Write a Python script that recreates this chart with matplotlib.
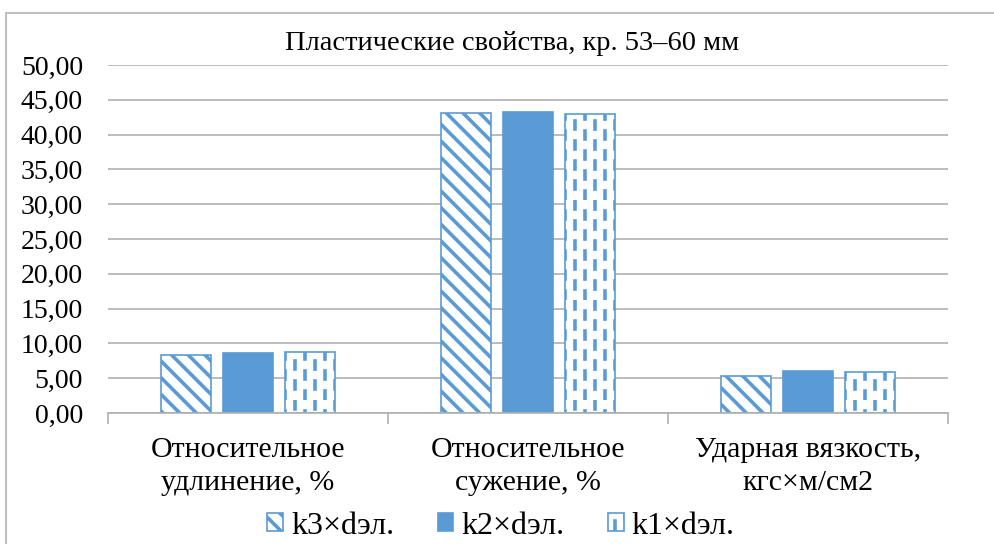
import numpy as np
import matplotlib
matplotlib.use("Agg")
import matplotlib.pyplot as plt
import matplotlib.hatch as mhatch
from matplotlib.patches import Rectangle
from matplotlib.path import Path
from matplotlib.ticker import FixedLocator, FuncFormatter, MultipleLocator

# ---- data -------------------------------------------------------------
title = "Пластические свойства, кр. 53–60 мм"
categories = ["Относительное\nудлинение, %",
              "Относительное\nсужение, %",
              "Ударная вязкость,\nкгс×м/см2"]
series_names = ["k3×dэл.", "k2×dэл.", "k1×dэл."]
k3_values = [8.3, 43.1, 5.3]
k2_values = [8.6, 43.3, 6.1]
k1_values = [8.75, 43.0, 5.9]
y_max = 50
y_step = 5


# ---- custom hatches ---------------------------------------------------
class DenseDiagonalHatch(mhatch.HatchPatternBase):
    """'\\' as diagonal stripes (lines x + y = k / n)."""
    per_tile = 6

    def __init__(self, hatch, density):
        n = self.per_tile if hatch.count("\\") else 0
        self.num_lines = 2 * n + 1 if n else 0
        self.num_vertices = self.num_lines * 2

    def set_vertices_and_codes(self, vertices, codes):
        c = np.arange(self.num_lines) / self.per_tile
        s = (c - 1.0) / 2.0
        vertices[0::2, 0] = s
        vertices[0::2, 1] = 1.0 + s
        vertices[1::2, 0] = 1.0 + s
        vertices[1::2, 1] = s
        codes[0::2] = Path.MOVETO
        codes[1::2] = Path.LINETO


class DashedVerticalHatch(mhatch.HatchPatternBase):
    """'|' as staggered short vertical dashes."""
    columns = 10
    dashes = 5
    dash_len = 0.08

    def __init__(self, hatch, density):
        self.num_segments = self.columns * self.dashes if hatch.count("|") else 0
        self.num_vertices = self.num_segments * 2

    def set_vertices_and_codes(self, vertices, codes):
        period = 1.0 / self.dashes
        k = 0
        for i in range(self.columns):
            x = (i + 0.5) / self.columns
            shift = 0.5 * period if i % 2 else 0.0
            for j in range(self.dashes):
                y0 = j * period + shift + 0.01
                vertices[k] = (x, y0)
                vertices[k + 1] = (x, y0 + self.dash_len)
                codes[k] = Path.MOVETO
                codes[k + 1] = Path.LINETO
                k += 2


_swap = {mhatch.VerticalHatch: DashedVerticalHatch,
         mhatch.SouthEastHatch: DenseDiagonalHatch}
mhatch._hatch_types = [_swap.get(t, t) for t in mhatch._hatch_types]

# ---- style ------------------------------------------------------------
plt.rcParams["font.family"] = ["Liberation Serif", "DejaVu Serif"]
plt.rcParams["hatch.linewidth"] = 2.6
blue = "#5B9BD5"
grid_gray = "#B0B0B0"
text_color = "#000000"

fig = plt.figure(figsize=(9.95, 5.44), dpi=100)
ax = fig.add_axes([108 / 995, 1 - 413 / 544, 840 / 995, 348 / 544])

x = np.arange(len(categories))
width = 0.179
offset = 0.221

ax.bar(x - offset, k3_values, width, facecolor="white", edgecolor=blue,
       hatch="\\", linewidth=1.2, label=series_names[0], zorder=3)
ax.bar(x, k2_values, width, facecolor=blue, edgecolor=blue,
       linewidth=1.2, label=series_names[1], zorder=3)
ax.bar(x + offset, k1_values, width, facecolor="white", edgecolor=blue,
       hatch="|", linewidth=1.2, label=series_names[2], zorder=3)

ax.set_xlim(-0.5, len(categories) - 0.5)
ax.set_ylim(0, y_max)

# y axis: comma decimal labels, gridlines, no spine/ticks
ax.yaxis.set_major_locator(MultipleLocator(y_step))
ax.yaxis.set_major_formatter(FuncFormatter(lambda v, p: f"{v:.2f}".replace(".", ",")))
ax.tick_params(axis="y", length=0, pad=18, labelsize=20, labelcolor=text_color)
ax.grid(axis="y", color=grid_gray, linewidth=1.2, zorder=0)
ax.set_axisbelow(True)

# x axis: tick marks at category boundaries, labels at centres
ax.xaxis.set_major_locator(FixedLocator(np.arange(len(categories) + 1) - 0.5))
ax.xaxis.set_major_formatter(FuncFormatter(lambda v, p: ""))
ax.set_xticks(x, categories, minor=True)
ax.tick_params(axis="x", which="major", length=8, width=1.2, color=grid_gray,
               direction="out")
ax.tick_params(axis="x", which="minor", length=0, pad=17, labelsize=21.5,
               labelcolor=text_color)
for lbl in ax.get_xticklabels(minor=True):
    lbl.set_linespacing(1.35)

for side in ("left", "right", "top"):
    ax.spines[side].set_visible(False)
ax.spines["bottom"].set_color(grid_gray)
ax.spines["bottom"].set_linewidth(1.2)
ax.spines["bottom"].set_zorder(4)

fig.text(512 / 995, 1 - 44 / 544, title, ha="center", va="center",
         fontsize=20.5, color=text_color)

leg = fig.legend(loc="center", bbox_to_anchor=(501 / 995, 1 - 526 / 544), ncol=3,
                 frameon=False, fontsize=23, handlelength=0.5, handleheight=0.5,
                 handletextpad=0.25, columnspacing=1.35, borderpad=0)

# outer chart frame
fig.patches.append(Rectangle((6 / 995, -0.1), 1.2, 1 - 13 / 544 + 0.1,
                             transform=fig.transFigure, fill=False,
                             edgecolor="#BFBFBF", linewidth=1.5, zorder=0))

fig.savefig("out.png", dpi=100)
